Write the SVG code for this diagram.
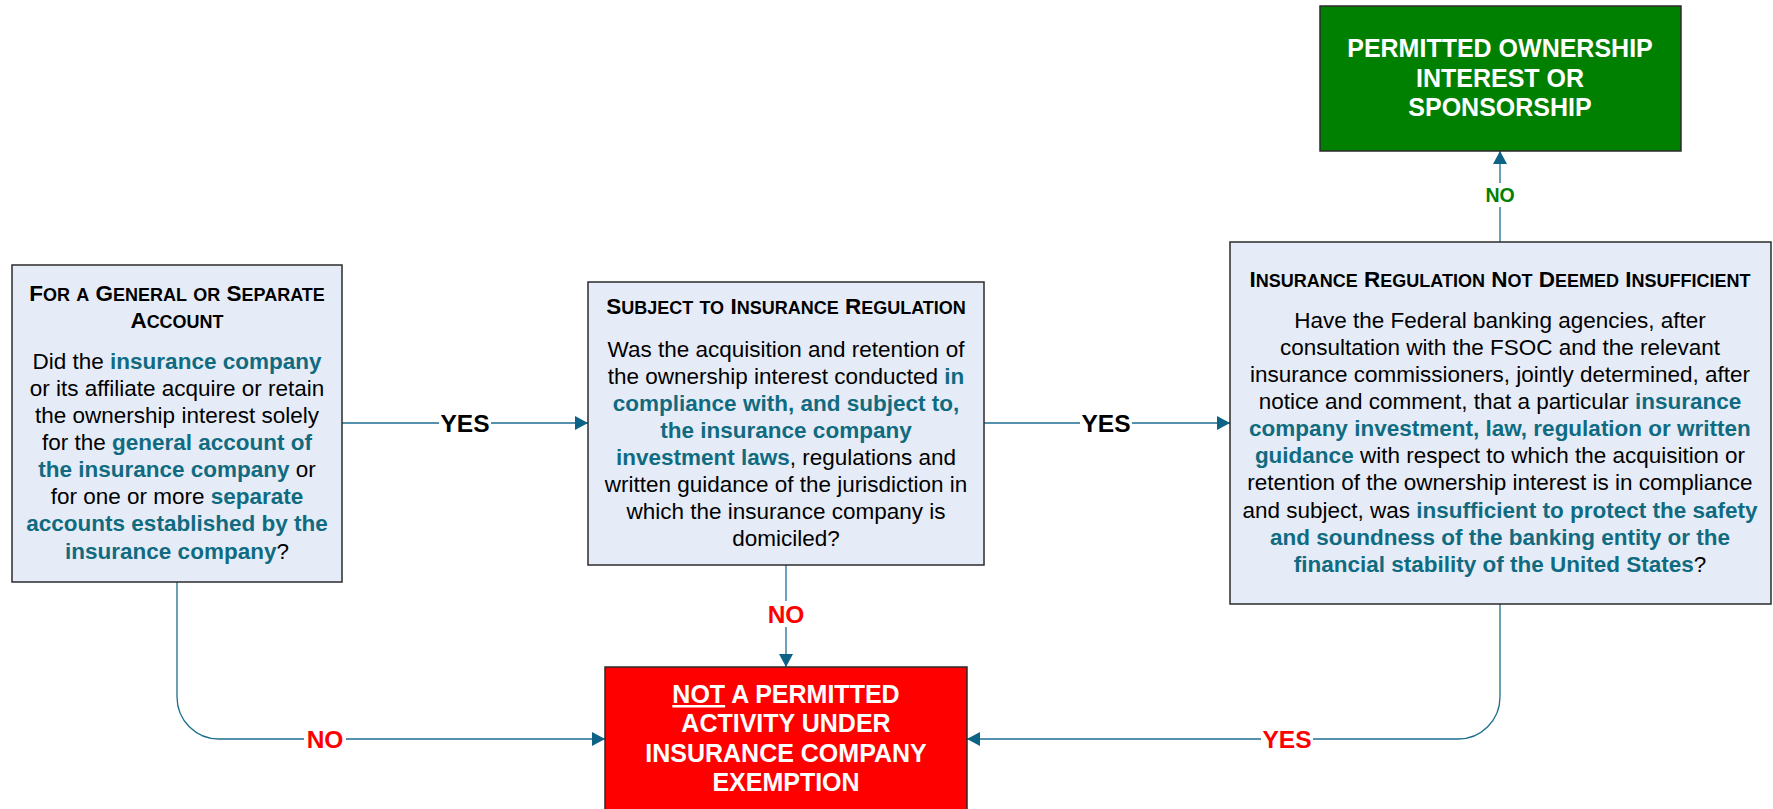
<svg xmlns="http://www.w3.org/2000/svg" width="1773" height="809" viewBox="0 0 1773 809">
  <defs>
    <marker id="arrow" markerUnits="userSpaceOnUse" markerWidth="14" markerHeight="15" refX="13" refY="7" orient="auto">
      <path d="M0,0 L13,7 L0,14 Z" fill="#0d6386"/>
    </marker>
    <style>
      text { font-family: "Liberation Sans", Arial, sans-serif; }
      .box { fill: #e6ecf7; stroke: #2b2b2b; stroke-width: 1.5; }
      .body { font-size: 22.5px; fill: #000; text-anchor: middle; }
      .hl { font-weight: bold; fill: #106b81; }
      .hd { font-size: 22.5px; font-weight: bold; fill: #000; text-anchor: middle; }
      .sc { font-size: 18px; }
      .term { font-size: 25px; font-weight: bold; fill: #fff; text-anchor: middle; }
      .conn { fill: none; stroke: #1d6d8e; stroke-width: 1.3; }
      .lbl { font-size: 24.5px; font-weight: bold; text-anchor: middle; }
      .bg { fill: #fff; }
    </style>
  </defs>
  <rect width="1773" height="809" fill="#fff"/>

  <!-- connectors -->
  <g id="connectors">
    <path class="conn" d="M342,423 H588" marker-end="url(#arrow)"/>
    <path class="conn" d="M984,423 H1230" marker-end="url(#arrow)"/>
    <path class="conn" d="M1500,242 V151" marker-end="url(#arrow)"/>
    <path class="conn" d="M786,565 V667" marker-end="url(#arrow)"/>
    <path class="conn" d="M177,582 V697 A42,42 0 0 0 219,739 H605" marker-end="url(#arrow)"/>
    <path class="conn" d="M1500,604 V697 A42,42 0 0 1 1458,739 H967" marker-end="url(#arrow)"/>

    <rect class="bg" x="439" y="410" width="52" height="26"/>
    <text class="lbl" x="465" y="432" fill="#000">YES</text>
    <rect class="bg" x="1080" y="410" width="52" height="26"/>
    <text class="lbl" x="1106" y="432" fill="#000">YES</text>
    <rect class="bg" x="1482" y="183" width="36" height="24"/>
    <text class="lbl" x="1500" y="202" fill="#008000" style="font-size:19.5px">NO</text>
    <rect class="bg" x="765" y="601" width="42" height="26"/>
    <text class="lbl" x="786" y="623" fill="#ff0000">NO</text>
    <rect class="bg" x="304" y="726" width="42" height="26"/>
    <text class="lbl" x="325" y="748" fill="#ff0000">NO</text>
    <rect class="bg" x="1261" y="726" width="52" height="26"/>
    <text class="lbl" x="1287" y="748" fill="#ff0000">YES</text>
  </g>

  <!-- general or separate account question -->
  <g id="general-separate-account">
    <rect class="box" x="12" y="265" width="330" height="317"/>
    <text class="hd" x="177" y="301">F<tspan class="sc">OR</tspan> <tspan class="sc">A</tspan> G<tspan class="sc">ENERAL</tspan> <tspan class="sc">OR</tspan> S<tspan class="sc">EPARATE</tspan></text>
    <text class="hd" x="177" y="328">A<tspan class="sc">CCOUNT</tspan></text>
    <text class="body" x="177" y="369">Did the <tspan class="hl">insurance company</tspan></text>
    <text class="body" x="177" y="396">or its affiliate acquire or retain</text>
    <text class="body" x="177" y="423">the ownership interest solely</text>
    <text class="body" x="177" y="450">for the <tspan class="hl">general account of</tspan></text>
    <text class="body" x="177" y="477"><tspan class="hl">the insurance company</tspan> or</text>
    <text class="body" x="177" y="504">for one or more <tspan class="hl">separate</tspan></text>
    <text class="body" x="177" y="531"><tspan class="hl">accounts established by the</tspan></text>
    <text class="body" x="177" y="559"><tspan class="hl">insurance company</tspan>?</text>
  </g>

  <!-- subject to insurance regulation question -->
  <g id="subject-to-regulation">
    <rect class="box" x="588" y="282" width="396" height="283"/>
    <text class="hd" x="786" y="314">S<tspan class="sc">UBJECT</tspan> <tspan class="sc">TO</tspan> I<tspan class="sc">NSURANCE</tspan> R<tspan class="sc">EGULATION</tspan></text>
    <text class="body" x="786" y="357">Was the acquisition and retention of</text>
    <text class="body" x="786" y="384">the ownership interest conducted <tspan class="hl">in</tspan></text>
    <text class="body" x="786" y="411"><tspan class="hl">compliance with, and subject to,</tspan></text>
    <text class="body" x="786" y="438"><tspan class="hl">the insurance company</tspan></text>
    <text class="body" x="786" y="465"><tspan class="hl">investment laws</tspan>, regulations and</text>
    <text class="body" x="786" y="492">written guidance of the jurisdiction in</text>
    <text class="body" x="786" y="519">which the insurance company is</text>
    <text class="body" x="786" y="546">domiciled?</text>
  </g>

  <!-- insurance regulation not deemed insufficient question -->
  <g id="regulation-not-insufficient">
    <rect class="box" x="1230" y="242" width="541" height="362"/>
    <text class="hd" x="1500" y="287">I<tspan class="sc">NSURANCE</tspan> R<tspan class="sc">EGULATION</tspan> N<tspan class="sc">OT</tspan> D<tspan class="sc">EEMED</tspan> I<tspan class="sc">NSUFFICIENT</tspan></text>
    <text class="body" x="1500" y="328">Have the Federal banking agencies, after</text>
    <text class="body" x="1500" y="355">consultation with the FSOC and the relevant</text>
    <text class="body" x="1500" y="382">insurance commissioners, jointly determined, after</text>
    <text class="body" x="1500" y="409">notice and comment, that a particular <tspan class="hl">insurance</tspan></text>
    <text class="body" x="1500" y="436"><tspan class="hl">company investment, law, regulation or written</tspan></text>
    <text class="body" x="1500" y="463"><tspan class="hl">guidance</tspan> with respect to which the acquisition or</text>
    <text class="body" x="1500" y="490">retention of the ownership interest is in compliance</text>
    <text class="body" x="1500" y="518">and subject, was <tspan class="hl">insufficient to protect the safety</tspan></text>
    <text class="body" x="1500" y="545"><tspan class="hl">and soundness of the banking entity or the</tspan></text>
    <text class="body" x="1500" y="572"><tspan class="hl">financial stability of the United States</tspan>?</text>
  </g>

  <!-- permitted outcome -->
  <g id="permitted">
    <rect x="1320" y="6" width="361" height="145" fill="#008000" stroke="#2b2b2b" stroke-width="1.5"/>
    <text class="term" x="1500" y="57">PERMITTED OWNERSHIP</text>
    <text class="term" x="1500" y="87">INTEREST OR</text>
    <text class="term" x="1500" y="116">SPONSORSHIP</text>
  </g>

  <!-- not permitted outcome -->
  <g id="not-permitted">
    <rect x="605" y="667" width="362" height="150" fill="#ff0000" stroke="#2b2b2b" stroke-width="1.5"/>
    <text class="term" x="786" y="703"><tspan text-decoration="underline">NOT</tspan> A PERMITTED</text>
    <text class="term" x="786" y="732">ACTIVITY UNDER</text>
    <text class="term" x="786" y="762">INSURANCE COMPANY</text>
    <text class="term" x="786" y="791">EXEMPTION</text>
  </g>
</svg>
